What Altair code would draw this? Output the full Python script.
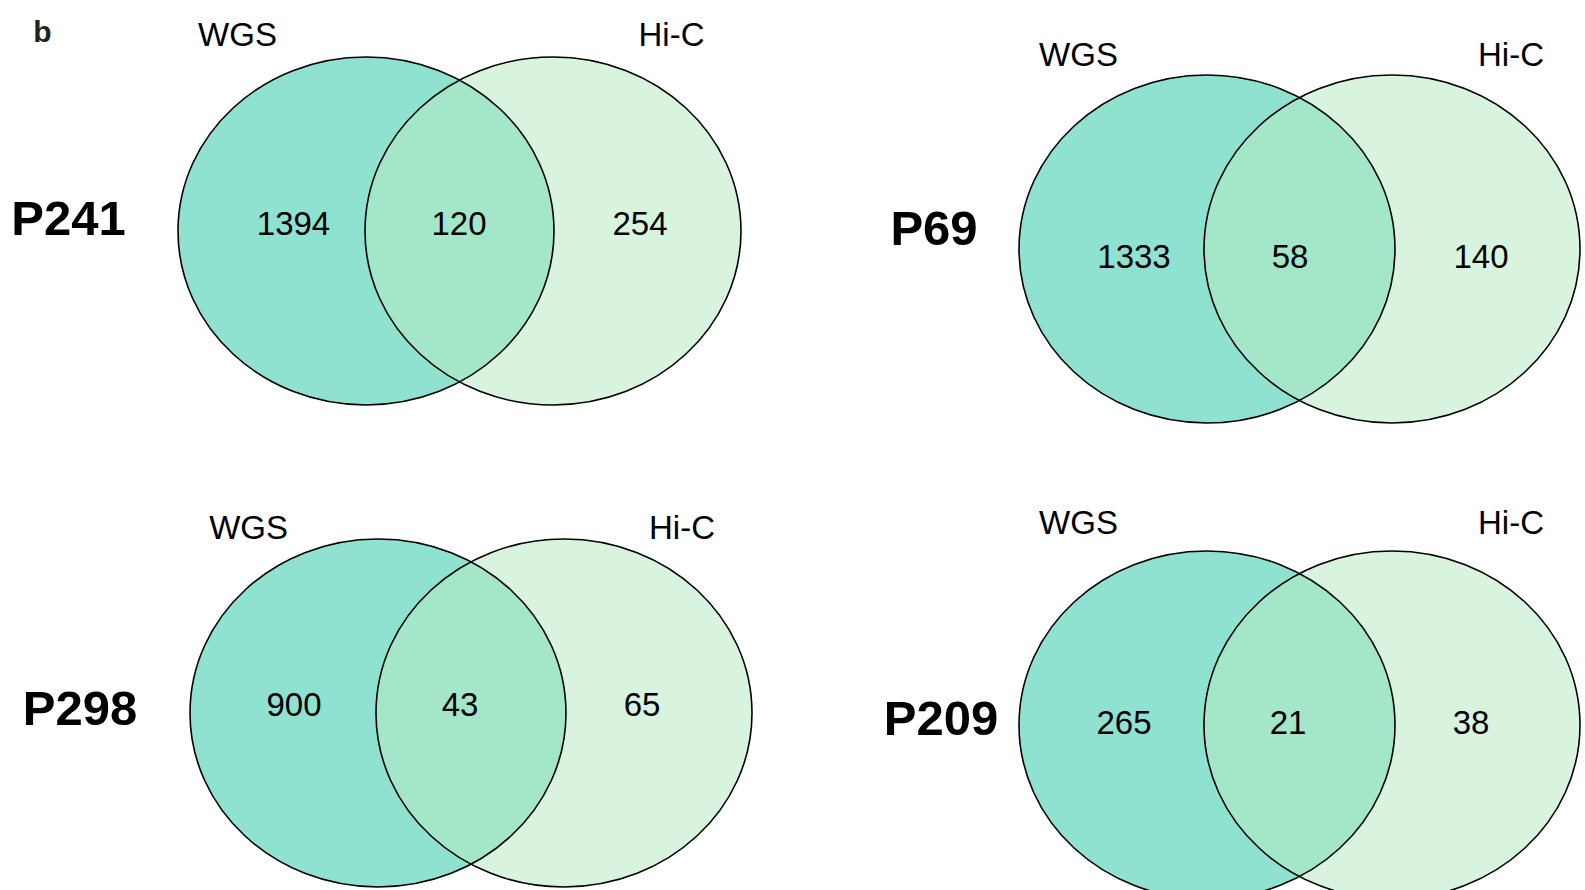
import altair as alt
import pandas as pd

# Overlap counts between WGS and Hi-C calls for each patient
panels = ["P241", "P69", "P298", "P209"]
set_names = ["WGS", "Hi-C"]
wgs_only = [1394, 1333, 900, 265]
shared = [120, 58, 43, 21]
hic_only = [254, 140, 65, 38]

W, H = 1585, 890
RX, RY = 188, 174          # ellipse half-width / half-height in px

# Placement of each panel on the page (pixel coordinates, y downward)
layout = {
    "P241": dict(cx=(366, 553), cy=231, set_y=46, set_x=(237.5, 671.5),
                 name_xy=(68.5, 235), count_x=(293.5, 459, 640), count_y=235),
    "P69": dict(cx=(1207, 1392), cy=249, set_y=66, set_x=(1078.5, 1511),
                name_xy=(934, 245), count_x=(1134, 1290, 1481), count_y=267.5),
    "P298": dict(cx=(378, 564), cy=713, set_y=539, set_x=(248.6, 682),
                 name_xy=(80, 725), count_x=(294, 460, 642), count_y=715.5),
    "P209": dict(cx=(1207, 1392), cy=725, set_y=534, set_x=(1078.5, 1511),
                 name_xy=(941, 735), count_x=(1124, 1288, 1471), count_y=734),
}

# Unit ellipse drawn as four cubic Beziers inside the [-1, 1] symbol box
k = RY / RX
c = 0.5523
ELLIPSE = (
    f"M 1 0 C 1 {c*k:.4f} {c} {k:.4f} 0 {k:.4f} "
    f"C {-c} {k:.4f} -1 {c*k:.4f} -1 0 "
    f"C -1 {-c*k:.4f} {-c} {-k:.4f} 0 {-k:.4f} "
    f"C {c} {-k:.4f} 1 {-c*k:.4f} 1 0 Z"
)
SIZE = (2 * RX) ** 2

ellipse_rows, set_rows, name_rows, count_rows = [], [], [], []
for i, p in enumerate(panels):
    L = layout[p]
    for j, s in enumerate(set_names):
        ellipse_rows.append(dict(panel=p, set=s, x=L["cx"][j], y=L["cy"]))
        set_rows.append(dict(panel=p, label=s, x=L["set_x"][j], y=L["set_y"]))
    name_rows.append(dict(label=p, x=L["name_xy"][0], y=L["name_xy"][1]))
    for x, v in zip(L["count_x"], (wgs_only[i], shared[i], hic_only[i])):
        count_rows.append(dict(label=str(v), x=x, y=L["count_y"]))

ell = pd.DataFrame(ellipse_rows)
xs = alt.X("x:Q", scale=alt.Scale(domain=[0, W], nice=False, zero=False), axis=None)
ys = alt.Y("y:Q", scale=alt.Scale(domain=[0, H], nice=False, zero=False, reverse=True), axis=None)

base = alt.Chart(ell).encode(x=xs, y=ys)

wgs_fill = base.transform_filter(alt.datum.set == "WGS").mark_point(
    shape=ELLIPSE, size=SIZE, filled=True, color="#8FE1D0", opacity=1, strokeWidth=0
)
hic_fill = base.transform_filter(alt.datum.set == "Hi-C").mark_point(
    shape=ELLIPSE, size=SIZE, filled=True, color="#B4EAC0", opacity=0.525, strokeWidth=0
)
outlines = base.mark_point(
    shape=ELLIPSE, size=SIZE, filled=False, color="black", opacity=1, strokeWidth=1.6
)

FONT = "Liberation Sans"

set_text = alt.Chart(pd.DataFrame(set_rows)).mark_text(
    font=FONT, fontSize=33, color="black", align="center", baseline="alphabetic"
).encode(x=xs, y=ys, text="label:N")

name_text = alt.Chart(pd.DataFrame(name_rows)).mark_text(
    font=FONT, fontSize=49, fontWeight="bold", color="black", align="center", baseline="alphabetic"
).encode(x=xs, y=ys, text="label:N")

count_text = alt.Chart(pd.DataFrame(count_rows)).mark_text(
    font=FONT, fontSize=33, color="black", align="center", baseline="alphabetic"
).encode(x=xs, y=ys, text="label:N")

panel_tag = alt.Chart(pd.DataFrame([dict(label="b", x=42.5, y=42)])).mark_text(
    font=FONT, fontSize=30, fontWeight="bold", color="#222222", align="center", baseline="alphabetic"
).encode(x=xs, y=ys, text="label:N")

chart = alt.layer(
    wgs_fill, hic_fill, outlines, set_text, name_text, count_text, panel_tag
).properties(
    width=W, height=H, padding=0, autosize=alt.AutoSizeParams(type="none")
).configure_view(stroke=None)

chart.save("out.html", embed_options={"renderer": "svg", "actions": False})
